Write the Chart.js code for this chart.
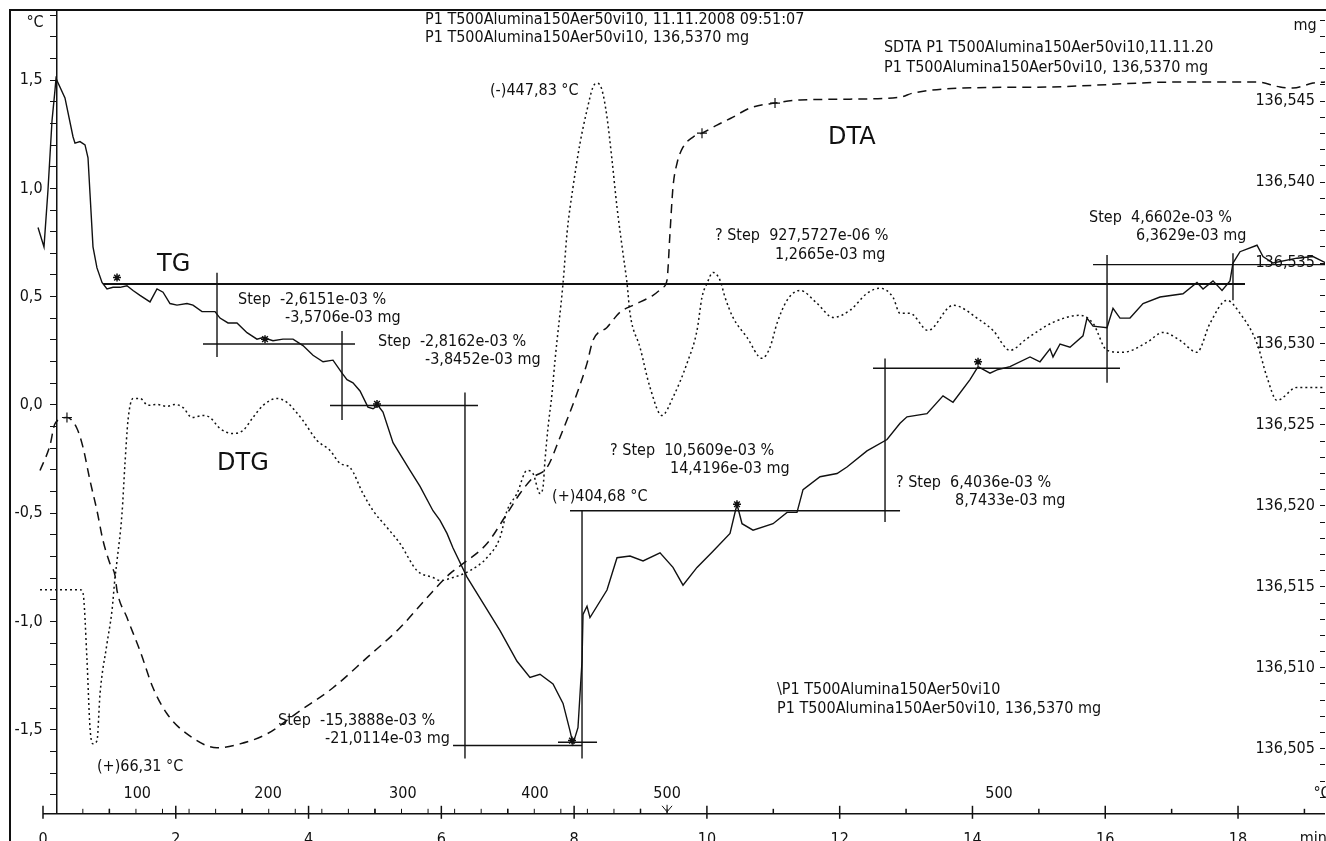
<!DOCTYPE html>
<html><head><meta charset="utf-8">
<script src="https://cdn.jsdelivr.net/npm/chart.js@4.4.0/dist/chart.umd.min.js"></script>
<style>html,body{margin:0;padding:0;background:#fff;overflow:hidden;}canvas{display:block;}</style>
</head><body>
<canvas id="c" width="1326" height="868"></canvas>
<script>
// ---- TG (solid, mg, right axis) ----
const tgTime = [-0.075,0.015,0.075,0.136,0.181,0.196,0.331,0.452,0.482,0.557,0.633,0.678,0.708,0.753,0.813,0.889,0.964,1.054,1.160,1.265,1.356,1.461,1.612,1.717,1.808,1.913,2.018,2.169,2.259,2.395,2.485,2.591,2.666,2.787,2.922,3.073,3.223,3.314,3.464,3.615,3.766,3.916,4.067,4.218,4.368,4.504,4.579,4.669,4.775,4.895,4.971,5.046,5.121,5.272,5.528,5.679,5.874,5.980,6.085,6.176,6.387,6.582,6.884,7.140,7.335,7.486,7.682,7.833,7.938,7.983,8.058,8.119,8.134,8.194,8.239,8.495,8.646,8.842,9.038,9.294,9.489,9.640,9.851,10.092,10.348,10.453,10.529,10.695,10.996,11.207,11.357,11.448,11.704,11.960,12.110,12.411,12.713,12.909,13.014,13.315,13.556,13.707,13.963,14.084,14.264,14.370,14.565,14.867,15.017,15.168,15.213,15.319,15.469,15.665,15.725,15.816,16.027,16.117,16.222,16.373,16.569,16.825,17.171,17.382,17.473,17.623,17.759,17.879,17.924,18.030,18.286,18.376,18.527,18.888,19.129,19.325];
const tgMass = [136.5372,136.5360,136.5395,136.5438,136.5457,136.5464,136.5452,136.5428,136.5424,136.5425,136.5423,136.5415,136.5393,136.5360,136.5347,136.5338,136.5334,136.5335,136.5335,136.5336,136.5333,136.5330,136.5326,136.5334,136.5332,136.5325,136.5324,136.5325,136.5324,136.5320,136.5320,136.5320,136.5316,136.5313,136.5313,136.5307,136.5303,136.5304,136.5302,136.5303,136.5303,136.5299,136.5293,136.5289,136.5290,136.5282,136.5278,136.5276,136.5271,136.5261,136.5260,136.5262,136.5258,136.5239,136.5222,136.5212,136.5197,136.5191,136.5183,136.5174,136.5156,136.5143,136.5123,136.5104,136.5094,136.5096,136.5090,136.5078,136.5061,136.5053,136.5063,136.5104,136.5133,136.5138,136.5131,136.5148,136.5168,136.5169,136.5166,136.5171,136.5162,136.5151,136.5162,136.5172,136.5183,136.5201,136.5189,136.5185,136.5189,136.5196,136.5196,136.5210,136.5218,136.5220,136.5224,136.5234,136.5241,136.5251,136.5255,136.5257,136.5268,136.5264,136.5278,136.5286,136.5282,136.5284,136.5286,136.5292,136.5289,136.5297,136.5292,136.5300,136.5298,136.5305,136.5316,136.5311,136.5310,136.5322,136.5316,136.5316,136.5325,136.5329,136.5331,136.5338,136.5334,136.5339,136.5333,136.5339,136.5350,136.5357,136.5361,136.5354,136.5350,136.5353,136.5354,136.5350];
// TG evaluation markers
const tgMarkTime = [1.115,3.344,5.031,7.968,10.453,14.084];
const tgMarkMass = [136.5341,136.5303,136.5263,136.5055,136.5201,136.5289];

// ---- DTG (dotted, left axis) ----
const dtgTime = [-0.045,0.557,0.603,0.663,0.708,0.753,0.813,0.859,0.964,1.039,1.085,1.115,1.190,1.235,1.280,1.356,1.461,1.582,1.717,1.868,1.988,2.109,2.244,2.410,2.515,2.666,2.862,3.013,3.163,3.314,3.525,3.675,3.766,3.916,4.127,4.323,4.474,4.624,4.820,4.971,5.182,5.377,5.633,5.874,5.980,6.176,6.432,6.688,6.884,6.990,7.140,7.290,7.381,7.486,7.531,7.561,7.607,7.667,7.712,7.833,7.893,7.983,8.089,8.194,8.284,8.345,8.420,8.495,8.571,8.646,8.736,8.797,8.842,8.992,9.143,9.324,9.489,9.700,9.851,9.926,10.002,10.092,10.197,10.273,10.393,10.604,10.830,10.951,11.056,11.207,11.403,11.659,11.900,12.156,12.411,12.607,12.803,12.909,13.059,13.330,13.707,14.114,14.310,14.565,14.822,15.213,15.620,15.816,16.027,16.268,16.629,16.870,17.126,17.382,17.578,17.834,18.030,18.286,18.437,18.587,18.888,19.310];
const dtgValue = [-0.853,-0.853,-0.869,-1.181,-1.491,-1.565,-1.551,-1.334,-1.102,-0.950,-0.797,-0.719,-0.502,-0.270,-0.072,0.030,0.030,-0.002,0.002,-0.007,0.002,-0.012,-0.058,-0.049,-0.058,-0.109,-0.132,-0.118,-0.058,-0.002,0.030,0.012,-0.016,-0.072,-0.164,-0.210,-0.270,-0.289,-0.409,-0.488,-0.566,-0.640,-0.765,-0.797,-0.811,-0.797,-0.765,-0.705,-0.612,-0.488,-0.409,-0.303,-0.317,-0.409,-0.381,-0.257,-0.104,0.053,0.206,0.562,0.793,1.005,1.209,1.361,1.468,1.486,1.454,1.329,1.130,0.913,0.700,0.562,0.423,0.266,0.081,-0.049,0.035,0.192,0.344,0.497,0.562,0.612,0.576,0.497,0.404,0.312,0.215,0.266,0.377,0.483,0.529,0.469,0.404,0.437,0.515,0.539,0.497,0.423,0.423,0.344,0.460,0.391,0.344,0.252,0.307,0.381,0.414,0.377,0.252,0.243,0.289,0.335,0.298,0.243,0.377,0.483,0.423,0.284,0.127,0.021,0.081,0.081];

// ---- DTA (dashed, left axis) ----
const dtaTime = [-0.045,0.105,0.181,0.361,0.512,0.603,0.708,0.813,0.904,1.009,1.085,1.115,1.265,1.461,1.657,1.868,2.169,2.621,2.967,3.374,3.871,4.368,4.880,5.377,5.784,6.130,6.326,6.688,6.989,7.185,7.381,7.592,7.787,8.043,8.194,8.284,8.495,8.691,8.887,9.188,9.339,9.399,9.444,9.489,9.550,9.640,9.791,9.926,10.152,10.393,10.649,11.026,11.403,12.155,12.909,13.104,13.858,15.123,17.126,18.286,18.632,18.828,19.129,19.310];
const dtaValue = [-0.303,-0.187,-0.086,-0.058,-0.109,-0.196,-0.349,-0.488,-0.626,-0.733,-0.788,-0.857,-0.982,-1.135,-1.306,-1.426,-1.519,-1.583,-1.565,-1.519,-1.412,-1.306,-1.167,-1.029,-0.890,-0.779,-0.733,-0.640,-0.502,-0.409,-0.335,-0.289,-0.150,0.053,0.192,0.298,0.358,0.428,0.460,0.506,0.543,0.576,0.793,1.005,1.116,1.190,1.237,1.255,1.292,1.329,1.371,1.394,1.408,1.412,1.421,1.440,1.463,1.468,1.491,1.491,1.468,1.463,1.486,1.491];
// DTA evaluation markers
const dtaMarkTime = [0.361,9.926,11.026];
const dtaMarkValue = [-0.058,1.255,1.394];

// ---- TG step construction lines (min, mg) ----
const stepT1 = [0.904,2.621,2.410,4.504,4.323,6.356,6.176,7.757,8.119,7.938,12.683,12.502,16.027,15.816,17.924];
const stepT2 = [18.105,2.621,4.700,4.504,6.552,6.356,8.119,8.345,8.119,12.909,12.683,16.222,16.027,19.310,17.924];
const stepM1 = [136.5337,136.5344,136.5300,136.5308,136.5262,136.5270,136.5052,136.5054,136.5197,136.5197,136.5291,136.5285,136.5355,136.5349,136.5356];
const stepM2 = [136.5337,136.5292,136.5300,136.5253,136.5262,136.5044,136.5052,136.5054,136.5044,136.5197,136.5190,136.5285,136.5276,136.5349,136.5327];

// ---- secondary temperature scale (°C) ----
const tempLabels = ['100','200','300','400','500','500'];
const tempLabelTimes = [1.42,3.39,5.42,7.41,9.40,14.40];
const tempTickTimes = [0.6,1.0,1.4,1.8,2.2,2.6,3.0,3.4,3.8,4.2,4.6,5.0,5.4,5.8,6.2,6.6,7.0,7.4,7.8,8.2,8.6,9.0,9.4];

// ---- axis label limits ----
const leftLabelStep = 0.5;
const rightLabelStep = 0.005;
const rightLabelMax = 136.545;

// ---- annotation texts (time, left-axis value) ----
const noteText = ['°C','P1 T500Alumina150Aer50vi10, 11.11.2008 09:51:07','P1 T500Alumina150Aer50vi10, 136,5370 mg',
 'SDTA P1 T500Alumina150Aer50vi10,11.11.20','P1 T500Alumina150Aer50vi10, 136,5370 mg','mg','(-)447,83 °C',
 '? Step  927,5727e-06 %','1,2665e-03 mg','Step  4,6602e-03 %','6,3629e-03 mg',
 'Step  -2,6151e-03 %','-3,5706e-03 mg','Step  -2,8162e-03 %','-3,8452e-03 mg',
 '? Step  10,5609e-03 %','14,4196e-03 mg','(+)404,68 °C','? Step  6,4036e-03 %','8,7433e-03 mg',
 '\\P1 T500Alumina150Aer50vi10','P1 T500Alumina150Aer50vi10, 136,5370 mg',
 'Step  -15,3888e-03 %','-21,0114e-03 mg','(+)66,31 °C','min','°C'];
const noteT = [-0.12,5.754,5.754,12.667,12.667,19.009,6.733,10.122,11.026,15.756,16.463,2.937,3.645,5.046,5.754,8.541,9.444,7.667,12.848,13.737,11.056,11.056,3.540,4.248,0.813,18.93,19.265];
const noteV = [1.763,1.777,1.694,1.647,1.555,1.749,1.449,0.779,0.691,0.866,0.779,0.483,0.400,0.289,0.206,-0.210,-0.294,-0.423,-0.358,-0.441,-1.315,-1.403,-1.461,-1.544,-1.671,-2.004,-1.796];
const noteAlign = ['center','left','left','left','left','center','left','left','left','left','left','left','left','left','left','left','left','left','left','left','left','left','left','left','left','left','center'];
const bigText = ['DTA','TG','DTG'];
const bigT = [11.824,1.717,2.621];
const bigV = [1.232,0.645,-0.270];

const FONT = "'DejaVu Sans Condensed','DejaVu Sans',sans-serif";
const BIGFONT = "'DejaVu Sans',sans-serif";
const INK = '#111';
const pts = (xs, ys) => xs.map((t, i) => ({x: t, y: ys[i]}));
const isMultiple = (v, step) => Math.abs(v / step - Math.round(v / step)) < 1e-4;

const datasets = [
  {label:'TG', data: pts(tgTime, tgMass), yAxisID:'yR', borderColor: INK, borderWidth:1.4, pointRadius:0, tension:0},
  {label:'DTG', data: pts(dtgTime, dtgValue), yAxisID:'yL', borderColor: INK, borderWidth:1.5, borderDash:[2,3], pointRadius:0, cubicInterpolationMode:'monotone'},
  {label:'DTA', data: pts(dtaTime, dtaValue), yAxisID:'yL', borderColor: INK, borderWidth:1.5, borderDash:[9,6], pointRadius:0, cubicInterpolationMode:'monotone'},
  {label:'TG marks', data: pts(tgMarkTime, tgMarkMass), yAxisID:'yR', showLine:false, pointStyle:'star', pointRadius:4, borderColor: INK, borderWidth:1.5},
  {label:'DTA marks', data: pts(dtaMarkTime, dtaMarkValue), yAxisID:'yL', showLine:false, pointStyle:'cross', pointRadius:5, borderColor: INK, borderWidth:1.2}
];
stepT1.forEach((t, i) => {
  datasets.push({label:'step'+i, data:[{x:t, y:stepM1[i]},{x:stepT2[i], y:stepM2[i]}], yAxisID:'yR',
    borderColor: INK, borderWidth: i === 0 ? 2 : 1.4, pointRadius:0, tension:0});
});

const decor = {
  id: 'decor',
  afterDraw(chart) {
    const {ctx, chartArea: a, scales: {x, yL}} = chart;
    const px = t => x.getPixelForValue(t), py = v => yL.getPixelForValue(v);
    ctx.save();
    ctx.strokeStyle = INK; ctx.fillStyle = INK;
    // outer frame (left and top)
    ctx.lineWidth = 2;
    ctx.beginPath(); ctx.moveTo(a.left, chart.height); ctx.lineTo(a.left, a.top); ctx.lineTo(chart.width, a.top); ctx.stroke();
    // time axis line
    ctx.lineWidth = 1.5;
    ctx.beginPath(); ctx.moveTo(px(0), a.bottom); ctx.lineTo(a.right, a.bottom); ctx.stroke();
    // time ticks
    x.ticks.forEach(tk => {
      const X = px(tk.value); const major = isMultiple(tk.value, 2);
      ctx.beginPath(); ctx.moveTo(X, a.bottom - (major ? 8 : 5)); ctx.lineTo(X, a.bottom + (major ? 5 : 0)); ctx.stroke();
    });
    // temperature ticks
    ctx.lineWidth = 1;
    tempTickTimes.forEach(t => { const X = px(t); ctx.beginPath(); ctx.moveTo(X, a.bottom - 5); ctx.lineTo(X, a.bottom); ctx.stroke(); });
    // arrow mark at 500 °C
    const Xa = px(tempLabelTimes[4]);
    ctx.beginPath(); ctx.moveTo(Xa - 5, a.bottom - 8); ctx.lineTo(Xa, a.bottom - 2); ctx.lineTo(Xa + 5, a.bottom - 8);
    ctx.moveTo(Xa, a.bottom - 9); ctx.lineTo(Xa, a.bottom); ctx.stroke();
    // texts
    ctx.textBaseline = 'middle';
    ctx.font = '16px ' + FONT;
    ctx.textAlign = 'center';
    tempLabels.forEach((s, i) => ctx.fillText(s, px(tempLabelTimes[i]), py(-1.796)));
    noteText.forEach((s, i) => { ctx.textAlign = noteAlign[i]; ctx.fillText(s, px(noteT[i]), py(noteV[i])); });
    ctx.font = '24px ' + BIGFONT; ctx.textAlign = 'left';
    bigText.forEach((s, i) => ctx.fillText(s, px(bigT[i]), py(bigV[i])));
    ctx.restore();
  }
};

Chart.defaults.font.family = FONT;
Chart.defaults.font.size = 16;
Chart.defaults.color = INK;

new Chart(document.getElementById('c'), {
  type: 'line',
  data: {datasets},
  plugins: [decor],
  options: {
    responsive: false, animation: false, events: [],
    layout: {autoPadding: false, padding: {left: 10, top: 10, right: 1, bottom: 3}},
    plugins: {legend: {display: false}, tooltip: {enabled: false}},
    scales: {
      x: {type:'linear', position:'bottom', min:-0.497, max:19.31,
          border:{display:false},
          grid:{display:true, drawOnChartArea:false, drawTicks:false, tickLength:0},
          ticks:{stepSize:1, includeBounds:false, autoSkip:false, maxRotation:0, padding:16,
                 callback: v => (isMultiple(v, 2) ? String(v) : '')}},
      yL: {type:'linear', position:{x:0.21}, min:-1.888, max:1.8236,
           border:{display:true, color:INK, width:1.5},
           grid:{display:true, drawOnChartArea:false, drawTicks:true, tickLength:6, color:INK, lineWidth:1},
           ticks:{stepSize:0.1, includeBounds:false, autoSkip:false, padding:0,
                  callback: v => (isMultiple(v, leftLabelStep) ? v.toFixed(1).replace('.', ',').replace('-0,0','0,0') + '\u2003' : '')}},
      yR: {type:'linear', position:{x:19.31}, min:136.50098, max:136.55063,
           border:{display:false},
           grid:{display:true, drawOnChartArea:false, drawTicks:true, tickLength:5, color:INK, lineWidth:1},
           ticks:{stepSize:0.001, includeBounds:false, autoSkip:false, padding:0,
                  callback: v => (isMultiple(v, rightLabelStep) && v <= rightLabelMax + 1e-6 ? v.toFixed(3).replace('.', ',') + '\u2002\u2009' : '')}}
    }
  }
});
</script>
</body></html>
